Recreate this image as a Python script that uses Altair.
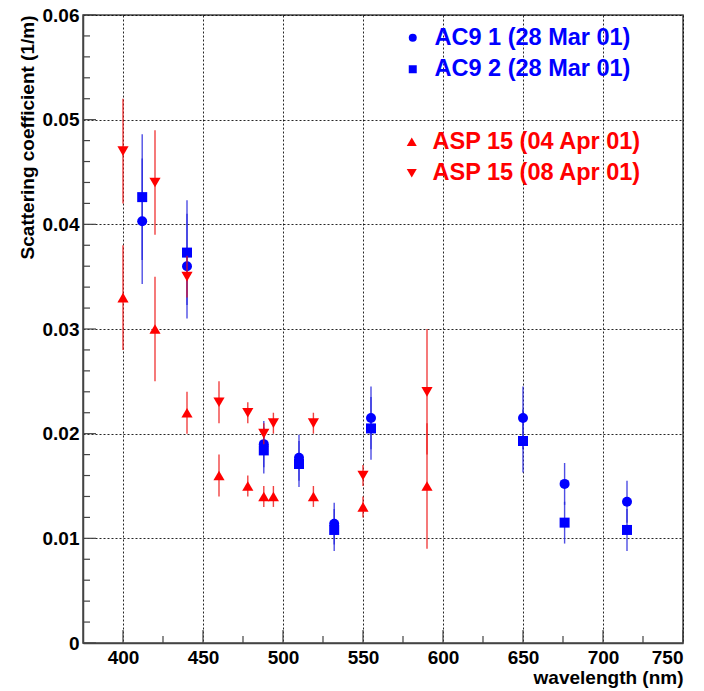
import altair as alt
import pandas as pd

# ---- data ----
wl_ac9 = [412, 440, 488, 510, 532, 555, 650, 676, 715]
ac9_1 = [0.0403, 0.0360, 0.0190, 0.0177, 0.0114, 0.0215, 0.0215, 0.0152, 0.0135]
ac9_2 = [0.0426, 0.0373, 0.0184, 0.0171, 0.0108, 0.0205, 0.0193, 0.0115, 0.0108]
ac9_err = [0.0060, 0.0050, 0.0022, 0.0022, 0.0020, 0.0030, 0.0030, 0.0020, 0.0020]

wl_asp = [400, 420, 440, 460, 478, 488, 494, 519, 550, 590]
asp_04 = [0.033, 0.030, 0.022, 0.016, 0.015, 0.014, 0.014, 0.014, 0.013, 0.015]
asp_04_err = [0.005, 0.005, 0.002, 0.002, 0.001, 0.001, 0.001, 0.001, 0.001, 0.006]
asp_08 = [0.047, 0.044, 0.035, 0.023, 0.022, 0.020, 0.021, 0.021, 0.016, 0.024]
asp_08_err = [0.005, 0.005, 0.002, 0.002, 0.001, 0.001, 0.001, 0.001, 0.001, 0.006]

names_ac9 = ["AC9 1 (28 Mar 01)", "AC9 2 (28 Mar 01)"]
names_asp = ["ASP 15 (04 Apr 01)", "ASP 15 (08 Apr 01)"]

x_ticks = [400, 450, 500, 550, 600, 650, 700, 750]
x_minor = [425, 475, 525, 575, 625, 675, 725]
y_ticks = [0, 0.01, 0.02, 0.03, 0.04, 0.05, 0.06]
y_minor = [0.002, 0.004, 0.006, 0.008, 0.012, 0.014, 0.016, 0.018,
           0.022, 0.024, 0.026, 0.028, 0.032, 0.034, 0.036, 0.038,
           0.042, 0.044, 0.046, 0.048, 0.052, 0.054, 0.056, 0.058]


def frame(wl, vals, errs, name):
    return pd.DataFrame({
        "wl": wl, "val": vals,
        "lo": [v - e for v, e in zip(vals, errs)],
        "hi": [v + e for v, e in zip(vals, errs)],
        "series": name,
    })


ac9 = pd.concat([frame(wl_ac9, ac9_1, ac9_err, names_ac9[0]),
                 frame(wl_ac9, ac9_2, ac9_err, names_ac9[1])])
asp = pd.concat([frame(wl_asp, asp_04, asp_04_err, names_asp[0]),
                 frame(wl_asp, asp_08, asp_08_err, names_asp[1])])

FONT = "Liberation Sans"
H = 628

xscale = alt.Scale(domain=[375, 750], nice=False, zero=False)
yscale = alt.Scale(domain=[0, 0.06], nice=False, zero=True)

xaxis = alt.Axis(values=x_ticks, title="wavelength (nm)", tickSize=0,
                 labelFont=FONT, labelFontSize=19, labelFontWeight="bold", labelColor="black",
                 labelPadding=5, titleFont=FONT, titleFontSize=19, titleFontWeight="bold",
                 titleColor="black", titleAnchor="end", titlePadding=1,
                 grid=True, gridColor="black", gridDash=[2, 2], gridWidth=1, gridOpacity=0.85,
                 domainColor="#444", domainWidth=1.5)
yaxis = alt.Axis(values=y_ticks, format="~g", title="Scattering coefficient (1/m)", tickSize=0,
                 labelFont=FONT, labelFontSize=19, labelFontWeight="bold", labelColor="black",
                 labelPadding=4, titleFont=FONT, titleFontSize=19, titleFontWeight="bold",
                 titleColor="black", titleAnchor="end", titlePadding=5,
                 grid=True, gridColor="black", gridDash=[2, 2], gridWidth=1, gridOpacity=0.85,
                 domainColor="#444", domainWidth=1.5)

X = alt.X("wl:Q", scale=xscale, axis=xaxis)
Y = alt.Y("val:Q", scale=yscale, axis=yaxis)
YLO = alt.Y("lo:Q", scale=yscale, axis=yaxis)


def legend(color, lx, ly, ssize, loff):
    return alt.Legend(orient="none", legendX=lx, legendY=ly, title=None, padding=0,
                      labelFont=FONT, labelFontSize=23.5, labelFontWeight="bold",
                      labelColor=color, labelLimit=400, labelOffset=loff,
                      symbolFillColor=color, symbolStrokeColor=color, symbolStrokeWidth=0,
                      symbolSize=ssize, rowPadding=6.5)


blue_err = alt.Chart(ac9).mark_rule(color="#2222dd", strokeWidth=1.4, opacity=0.8).encode(
    x=X, y=YLO, y2="hi:Q")
blue_pts = alt.Chart(ac9).mark_point(filled=True, size=100, opacity=1, color="blue").encode(
    x=X, y=Y,
    shape=alt.Shape("series:N", scale=alt.Scale(domain=names_ac9, range=["circle", "square"]),
                    legend=legend("blue", 318, 11, 64, 10)))
red_err = alt.Chart(asp).mark_rule(color="#ee1111", strokeWidth=1.4, opacity=0.8).encode(
    x=X, y=YLO, y2="hi:Q")
red_pts = alt.Chart(asp).mark_point(filled=True, size=125, opacity=1, color="red").encode(
    x=X, y=Y,
    shape=alt.Shape("series:N", scale=alt.Scale(domain=names_asp, range=["triangle-up", "triangle-down"]),
                    legend=legend("red", 317, 115, 100, 9)))

# inside ticks (ROOT style)
ytick_major = alt.Chart(pd.DataFrame({"val": y_ticks})).mark_rule(color="#444", strokeWidth=1.2).encode(
    y=Y, x=alt.value(0), x2=alt.value(13))
ytick_minor = alt.Chart(pd.DataFrame({"val": y_minor})).mark_rule(color="#444", strokeWidth=1.2).encode(
    y=Y, x=alt.value(0), x2=alt.value(7))
xtick_major = alt.Chart(pd.DataFrame({"wl": x_ticks})).mark_rule(color="#444", strokeWidth=1.2).encode(
    x=X, y=alt.value(H), y2=alt.value(H - 13))
xtick_minor = alt.Chart(pd.DataFrame({"wl": x_minor})).mark_rule(color="#444", strokeWidth=1.2).encode(
    x=X, y=alt.value(H), y2=alt.value(H - 7))

chart = alt.layer(
    ytick_major, ytick_minor, xtick_major, xtick_minor,
    blue_err, blue_pts, red_err, red_pts,
).resolve_scale(shape="independent").properties(
    width=600, height=H,
    autosize=alt.AutoSizeParams(type="none"),
    padding={"left": 83, "top": 15, "right": 21, "bottom": 48},
    background="white",
).configure_view(stroke="#444", strokeWidth=1.5)

chart.save("out.html", embed_options={"renderer": "svg", "actions": False})
